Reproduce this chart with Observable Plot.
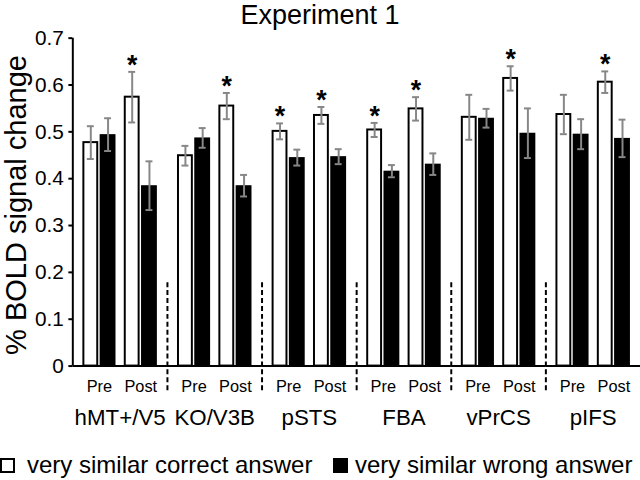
<!DOCTYPE html>
<html>
<head>
<meta charset="utf-8">
<script src="https://cdn.jsdelivr.net/npm/d3@7"></script>
<script src="https://cdn.jsdelivr.net/npm/@observablehq/plot@0.6"></script>
<style>
  html, body { margin: 0; padding: 0; background: white; }
  body { width: 640px; height: 480px; overflow: hidden; position: relative; font-family: "Liberation Sans", Arial, sans-serif; color: black; }
  .abs { position: absolute; white-space: nowrap; }
  #chart svg g[aria-label="y-axis tick"] path { stroke-width: 2; }
</style>
</head>
<body>
<div id="chart" class="abs" style="left:0;top:0;"></div>
<div class="abs" style="left:0;top:2px;width:640px;text-align:center;font-size:27px;line-height:27px;">Experiment 1</div>
<div class="abs" style="left:16px;top:205px;font-size:29px;line-height:29px;transform:translate(-50%,-50%) rotate(-90deg);">% BOLD signal change</div>
<div class="abs" style="left:0;top:458px;width:15px;height:15px;box-sizing:border-box;border:2px solid black;background:white;"></div>
<div class="abs" style="left:27px;top:453px;font-size:24px;line-height:24px;">very similar correct answer</div>
<div class="abs" style="left:333px;top:458px;width:15px;height:15px;background:black;"></div>
<div class="abs" style="left:355px;top:453px;font-size:24px;line-height:24px;">very similar wrong answer</div>
<script>
// ---- data ----
const regions = ["hMT+/V5", "KO/V3B", "pSTS", "FBA", "vPrCS", "pIFS"];
const phases = ["Pre", "Post"];
const correctPre     = [0.477, 0.449, 0.501, 0.504, 0.531, 0.537];
const correctPreErr  = [0.035, 0.021, 0.017, 0.015, 0.048, 0.042];
const wrongPre       = [0.494, 0.487, 0.445, 0.416, 0.529, 0.495];
const wrongPreErr    = [0.035, 0.021, 0.017, 0.013, 0.020, 0.032];
const correctPost    = [0.574, 0.555, 0.535, 0.549, 0.614, 0.606];
const correctPostErr = [0.054, 0.028, 0.018, 0.025, 0.026, 0.023];
const wrongPost      = [0.385, 0.385, 0.447, 0.431, 0.497, 0.486];
const wrongPostErr   = [0.052, 0.023, 0.016, 0.023, 0.053, 0.040];
const sigPre  = [false, false, true, true, false, false];
const sigPost = [true, true, true, true, true, true];
const yTicks = [0, 0.1, 0.2, 0.3, 0.4, 0.5, 0.6, 0.7];

// ---- tables ----
const correct = [], wrong = [];
regions.forEach((r, i) => {
  correct.push({region: r, phase: "Pre",  value: correctPre[i],  err: correctPreErr[i],  sig: sigPre[i]});
  correct.push({region: r, phase: "Post", value: correctPost[i], err: correctPostErr[i], sig: sigPost[i]});
  wrong.push({region: r, phase: "Pre",  value: wrongPre[i],  err: wrongPreErr[i]});
  wrong.push({region: r, phase: "Post", value: wrongPost[i], err: wrongPostErr[i]});
});
const caps = rows => rows.flatMap(d => [{...d, y: d.value - d.err}, {...d, y: d.value + d.err}]);
const phaseLabels = regions.flatMap(r => phases.map(p => ({region: r, phase: p})));

// ---- layout constants ----
const W = 646, H = 440, ML = 73, MR = 0, MT = 38, MB = 71;
const PI = 0.2, PO = 0.243;
const facetW = (W - ML - MR) / regions.length;
const xStep = facetW / (phases.length - PI + 2 * PO);
const xBand = xStep * (1 - PI);
const barW = 16;
const half = xBand / 2;
const cOff = -(half - barW / 2);
const wOff = half - barW / 2;
const capW = 7;
const grey = "#878787";

const chart = Plot.plot({
  width: W, height: H,
  marginLeft: ML, marginRight: MR, marginTop: MT, marginBottom: MB,
  style: {fontFamily: "Liberation Sans, Arial, sans-serif", fontSize: "21px", color: "black", background: "white", overflow: "visible"},
  fx: {axis: null, domain: regions, padding: 0, round: false},
  x: {axis: null, domain: phases, paddingInner: PI, paddingOuter: PO, round: false},
  y: {domain: [0, 0.7], ticks: yTicks, tickFormat: d => d === 0 ? "0" : d.toFixed(1), tickSize: 4, tickPadding: 5, label: null},
  marks: [
    Plot.ruleY([0], {stroke: "black", strokeWidth: 2}),
    Plot.ruleX([regions[0]], {fx: d => d, x: null, y1: 0, y2: 0.7, dx: -facetW / 2, stroke: "black", strokeWidth: 2}),
    Plot.barY(correct, {fx: "region", x: "phase", y: "value", fill: "white", stroke: "black", strokeWidth: 2,
      insetLeft: 1, insetRight: xBand - barW + 1}),
    Plot.barY(wrong, {fx: "region", x: "phase", y: "value", fill: "black",
      insetLeft: xBand - barW, insetRight: 0}),
    Plot.ruleX(correct, {fx: "region", x: "phase", y1: d => d.value - d.err, y2: d => d.value + d.err, dx: cOff, stroke: grey, strokeWidth: 2}),
    Plot.ruleX(wrong, {fx: "region", x: "phase", y1: d => d.value - d.err, y2: d => d.value + d.err, dx: wOff, stroke: grey, strokeWidth: 2}),
    Plot.tickY(caps(correct), {fx: "region", x: "phase", y: "y", stroke: grey, strokeWidth: 2,
      insetLeft: barW / 2 - capW / 2, insetRight: xBand - barW / 2 - capW / 2}),
    Plot.tickY(caps(wrong), {fx: "region", x: "phase", y: "y", stroke: grey, strokeWidth: 2,
      insetLeft: xBand - barW / 2 - capW / 2, insetRight: barW / 2 - capW / 2}),
    Plot.text(correct.filter(d => d.sig), {fx: "region", x: "phase", y: d => d.value + d.err, text: () => "*",
      dx: cOff, dy: 2, lineAnchor: "bottom", fontSize: 27, fontWeight: "bold"}),
    Plot.ruleX(regions.slice(1), {fx: d => d, x: null, y1: 0.178, y2: -0.059, dx: -facetW / 2, stroke: "black", strokeWidth: 2, strokeDasharray: "5,3"}),
    Plot.text(phaseLabels, {fx: "region", x: "phase", text: "phase", frameAnchor: "bottom", lineAnchor: "bottom", dy: 26, fontSize: 16.5}),
    Plot.text(regions, {fx: d => d, text: d => d, frameAnchor: "bottom", lineAnchor: "bottom", dy: 59, fontSize: 22.5})
  ]
});
document.getElementById("chart").appendChild(chart);
</script>
</body>
</html>
